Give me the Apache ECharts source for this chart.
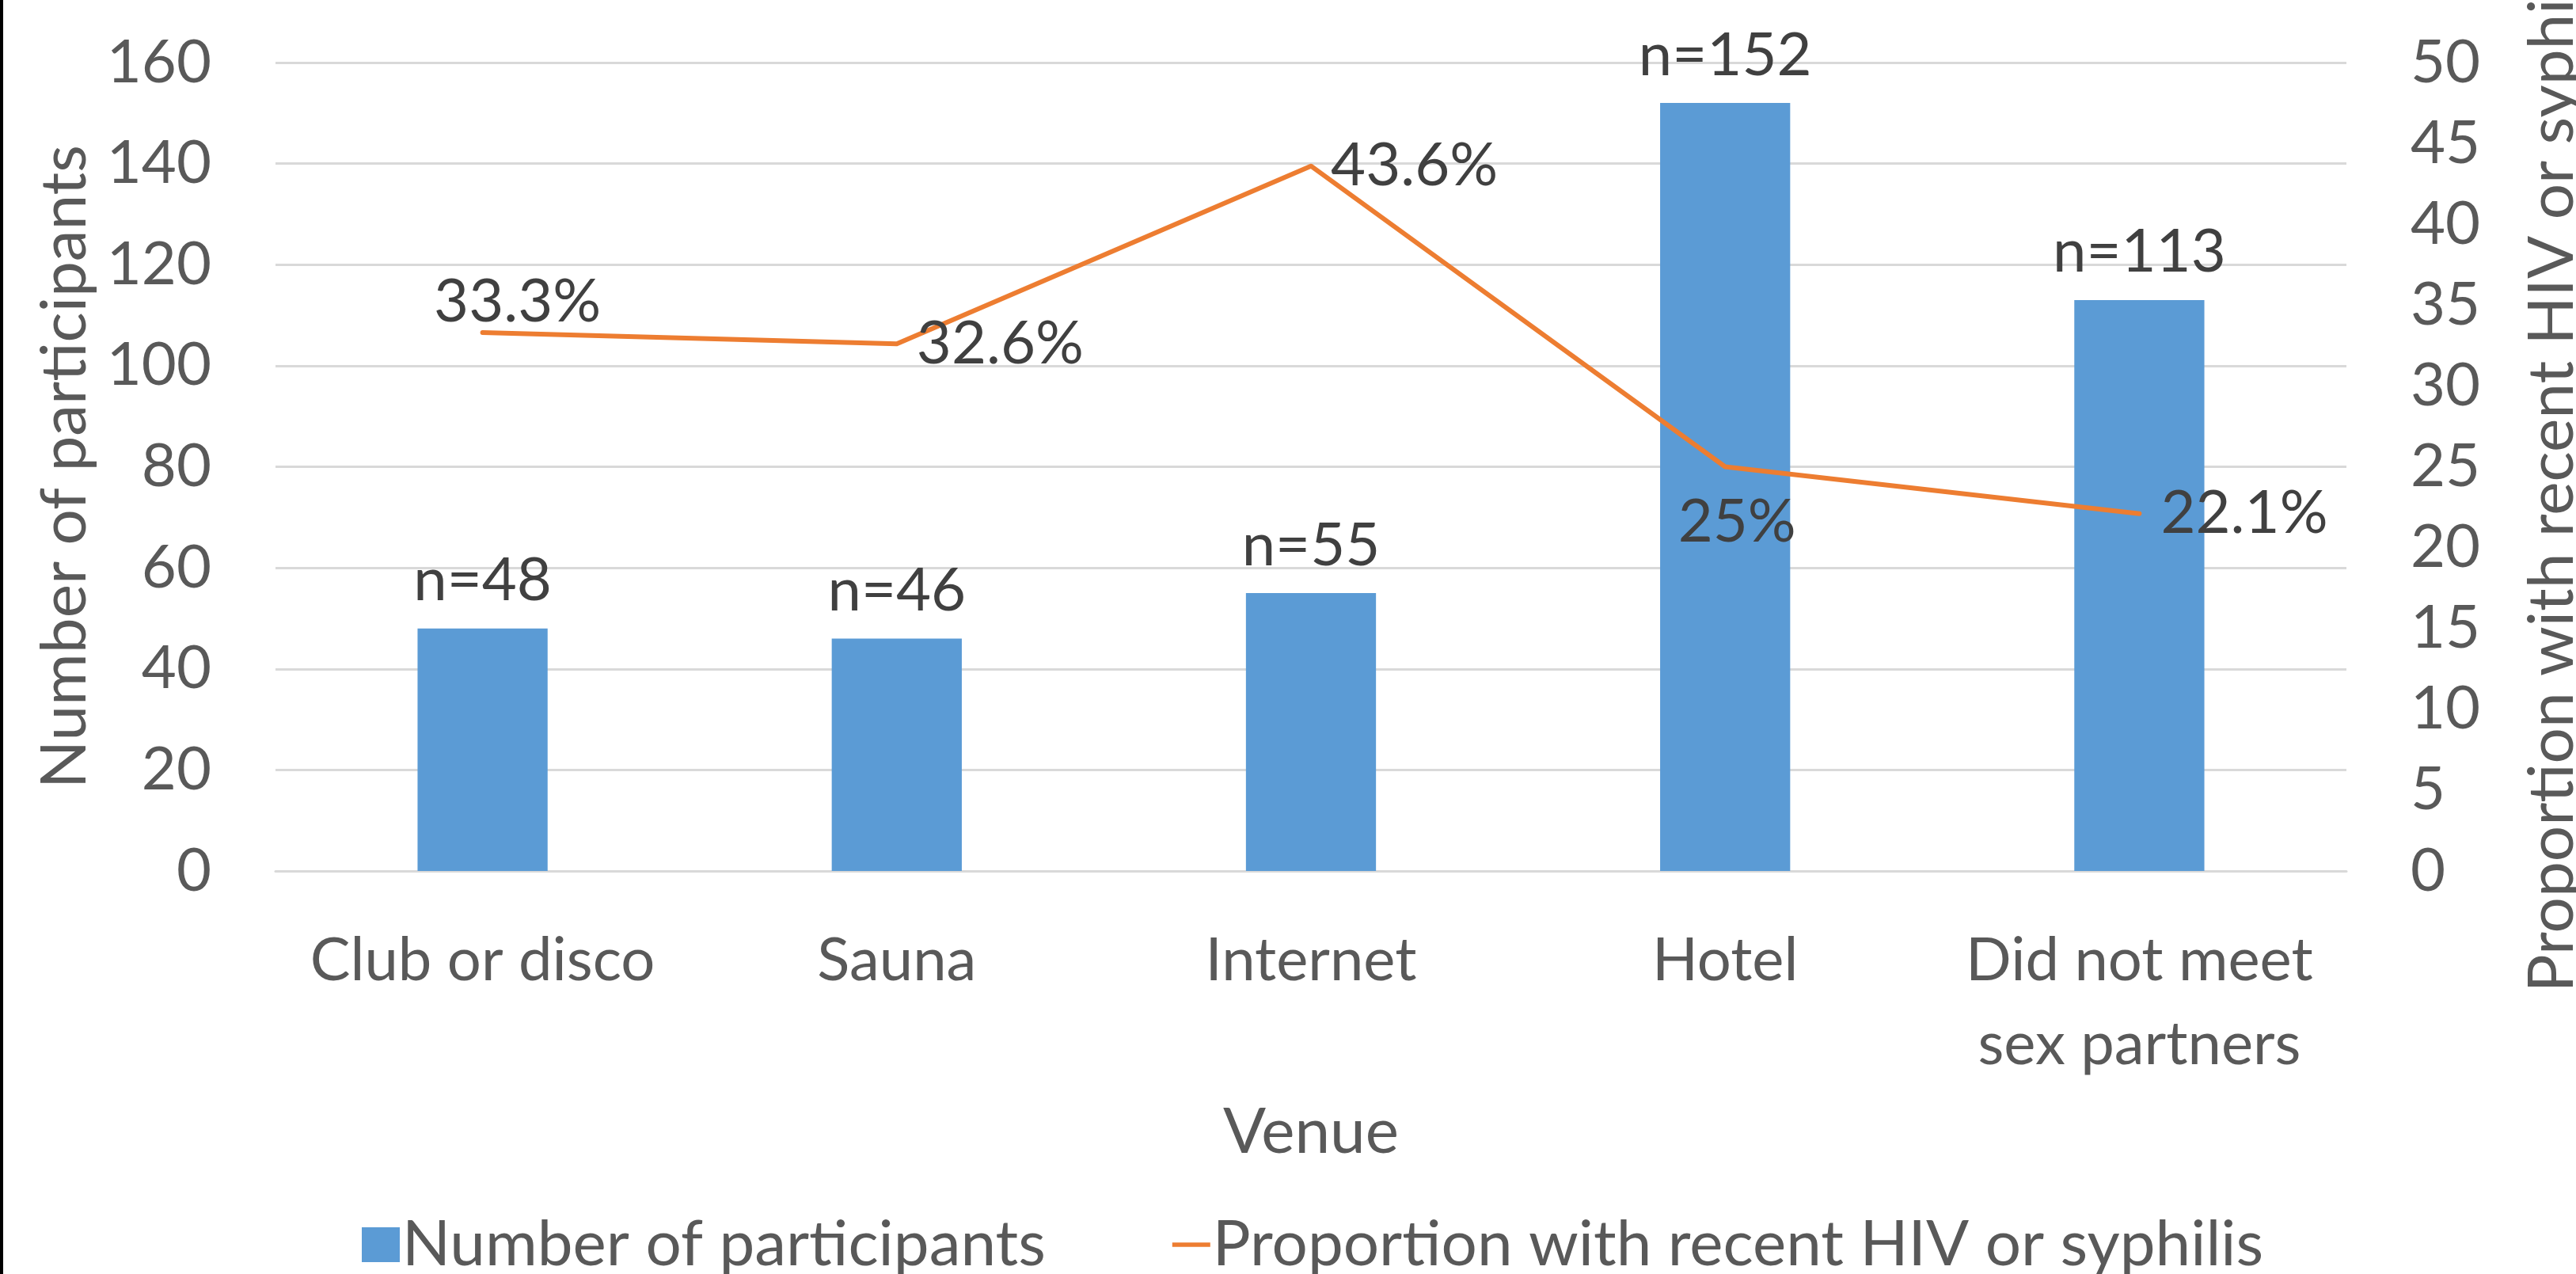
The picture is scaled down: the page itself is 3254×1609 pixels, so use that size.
<!DOCTYPE html>
<html>
<head>
<meta charset="utf-8">
<script src="https://cdn.jsdelivr.net/npm/echarts@6/dist/echarts.min.js"></script>
<style>
html,body{margin:0;padding:0;background:#fff;}
#chart{width:3254px;height:1609px;}
</style>
</head>
<body>
<div id="chart"></div>
<script>
// ---- data ----
const categories = ['Club or disco', 'Sauna', 'Internet', 'Hotel', 'Did not meet\nsex partners'];
const participants = [48, 46, 55, 152, 113];
const proportion = [33.3, 32.6, 43.6, 25, 22.1];
const leftTicks = { min: 0, max: 160, interval: 20 };
const rightTicks = { min: 0, max: 50, interval: 5 };
const barName = 'Number of participants';
const lineName = 'Proportion with recent HIV or syphilis';
const xTitle = 'Venue';

// label placement for the line points (style, not data)
const lineLabelPlacement = [
  { position: 'top', distance: 0, offset: [44, 0] },
  { position: 'right', distance: 25 },
  { position: 'right', distance: 25 },
  { position: 'bottom', distance: 32, offset: [15, 0] },
  { position: 'right', distance: 27 }
];

const FONT = 'Lato';
const FS = 76;
const FS_TITLE = 80;
const GREY = '#595959';
const DARK = '#404040';

const chart = echarts.init(document.getElementById('chart'), null, { renderer: 'canvas' });

const option = {
  backgroundColor: '#ffffff',
  animation: false,
  textStyle: { fontFamily: FONT },
  graphic: [
    { type: 'rect', shape: { x: 0, y: 0, width: 4, height: 1609 }, style: { fill: '#000' }, z: 100 }
  ],
  grid: { left: 348, right: 290, top: 79, bottom: 509, containLabel: false, outerBoundsMode: 'none' },
  legend: {
    data: [
      { name: barName, icon: 'rect' },
      { name: lineName, icon: 'path://M0,0H100V11H0Z' }
    ],
    left: 452,
    top: 1527,
    itemWidth: 48,
    itemHeight: 44,
    itemGap: 160,
    textStyle: { fontFamily: FONT, fontSize: FS_TITLE, color: GREY, padding: [0, 0, 0, -2] }
  },
  xAxis: {
    type: 'category',
    data: categories,
    axisLine: { show: true, lineStyle: { color: '#D9D9D9', width: 3 } },
    axisTick: { show: false },
    axisLabel: { fontFamily: FONT, fontSize: FS, color: GREY, margin: 60, lineHeight: 106, interval: 0 },
    name: xTitle,
    nameLocation: 'middle',
    nameGap: 290,
    nameTextStyle: { fontFamily: FONT, fontSize: FS_TITLE, color: GREY }
  },
  yAxis: [
    {
      type: 'value',
      min: leftTicks.min, max: leftTicks.max, interval: leftTicks.interval,
      axisLine: { show: false }, axisTick: { show: false },
      axisLabel: { fontFamily: FONT, fontSize: FS, color: GREY, margin: 81 },
      splitLine: { show: true, lineStyle: { color: '#D9D9D9', width: 3 } },
      name: barName,
      nameLocation: 'middle',
      nameRotate: 90,
      nameGap: 226,
      nameTextStyle: { fontFamily: FONT, fontSize: FS_TITLE, color: GREY }
    },
    {
      type: 'value',
      position: 'right',
      min: rightTicks.min, max: rightTicks.max, interval: rightTicks.interval,
      axisLine: { show: false }, axisTick: { show: false },
      axisLabel: { fontFamily: FONT, fontSize: FS, color: GREY, margin: 81, align: 'left' },
      splitLine: { show: false },
      name: lineName,
      nameLocation: 'middle',
      nameRotate: 90,
      nameGap: 220,
      nameTextStyle: { fontFamily: FONT, fontSize: FS_TITLE, color: GREY }
    }
  ],
  series: [
    {
      name: barName,
      type: 'bar',
      yAxisIndex: 0,
      data: participants,
      barWidth: '31.4%',
      itemStyle: { color: '#5B9BD5' },
      label: { show: true, position: 'top', distance: 22, formatter: 'n={c}', fontFamily: FONT, fontSize: FS, color: DARK }
    },
    {
      name: lineName,
      type: 'line',
      yAxisIndex: 1,
      data: proportion.map((v, i) => ({ value: v, label: lineLabelPlacement[i] })),
      symbol: 'circle',
      symbolSize: 0.1,
      itemStyle: { color: '#ED7D31' },
      lineStyle: { color: '#ED7D31', width: 6, cap: 'round', join: 'round' },
      label: { show: true, formatter: '{c}%', fontFamily: FONT, fontSize: FS, color: DARK },
      z: 5
    }
  ]
};

chart.setOption(option);
</script>
</body>
</html>
